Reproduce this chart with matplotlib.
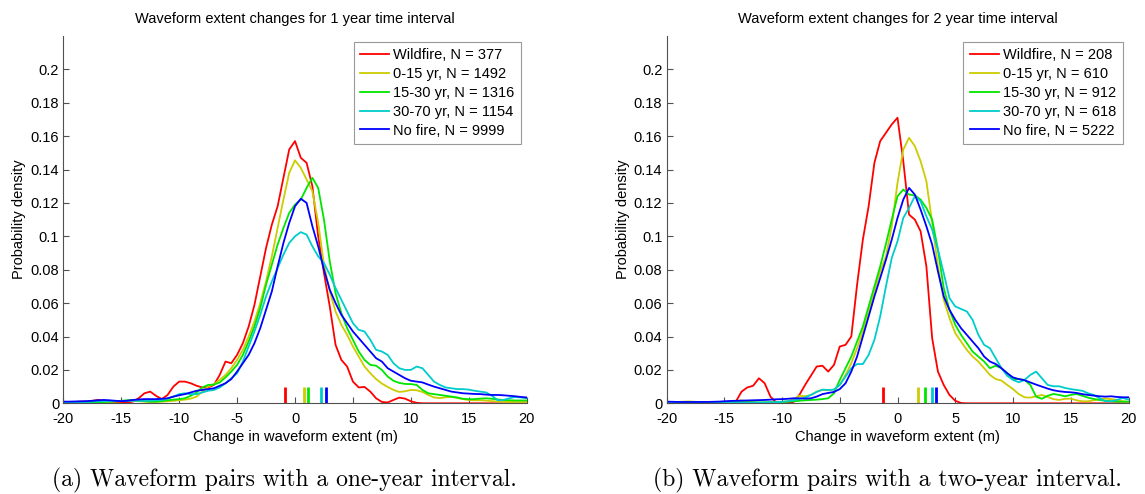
import matplotlib
matplotlib.use("Agg")
import matplotlib.pyplot as plt
import numpy as np

plt.rcParams['font.family'] = ['Liberation Sans', 'DejaVu Sans']
plt.rcParams['axes.unicode_minus'] = False

# x grid shared by all density curves (m)
x = np.arange(-20, 20.5, 0.5)

colors = ['#ff0000', '#cccc00', '#00e600', '#00cccc', '#0000ff']

# ---- 1 year interval ----
labels1 = ['Wildfire, N = 377', '0-15 yr, N = 1492', '15-30 yr, N = 1316',
           '30-70 yr, N = 1154', 'No fire, N = 9999']
wildfire1 = [.0008, .0008, .0008, .001, .001, .0015, .002, .0015, .001, .0006,
             .0005, .0005, .001, .003, .006, .007, .0045, .0025, .005, .010,
             .013, .013, .012, .0105, .0095, .0095, .011, .017, .025, .024,
             .029, .036, .046, .059, .076, .093, .107, .118, .135, .152,
             .157, .147, .144, .130, .100, .078, .058, .035, .026, .022,
             .013, .0095, .0098, .007, .003, .0008, .0005, .002, .0034, .0028,
             .0012, .0003, 0, 0, 0, 0, 0, 0, 0, 0,
             0, 0, 0, 0, 0, 0, 0, 0, 0, 0,
             0]
yr0_15_1 = [.0003, .0003, .0004, .0005, .0005, .0006, .0007, .0008, .0008, .001,
            .0012, .0015, .0015, .0013, .001, .0008, .0008, .001, .0012, .0015,
            .0018, .0022, .0028, .004, .007, .010, .0115, .014, .017, .021,
            .026, .032, .040, .049, .060, .073, .088, .105, .122, .138,
            .1455, .141, .134, .127, .108, .083, .067, .055, .047, .041,
            .034, .028, .022, .018, .0145, .0118, .0098, .008, .0068, .0072,
            .008, .0078, .0068, .005, .0035, .0031, .0036, .0038, .0032, .0025,
            .002, .0018, .0018, .0016, .0013, .001, .0009, .0008, .0008, .0008,
            .0008]
yr15_30_1 = [.0003, .0003, .0003, .0004, .0005, .0005, .0006, .0008, .001, .0012,
             .0015, .0018, .002, .0018, .0013, .001, .001, .0013, .0018, .0022,
             .0025, .003, .0045, .0065, .0095, .011, .0112, .0125, .0155, .019,
             .023, .029, .037, .046, .057, .071, .083, .095, .105, .114,
             .119, .122, .129, .135, .129, .110, .085, .066, .054, .045,
             .038, .031, .026, .023, .0225, .020, .016, .0135, .0122, .0116,
             .0115, .011, .008, .006, .0055, .005, .0045, .004, .0035, .0027,
             .0024, .0025, .0028, .003, .0027, .0023, .002, .0018, .0017, .0017,
             .0017]
yr30_70_1 = [.0005, .0005, .0006, .0007, .0008, .001, .0012, .0013, .0013, .0013,
             .0014, .0015, .0015, .0015, .0015, .0016, .0018, .002, .0028, .004,
             .0055, .006, .0055, .0055, .0065, .0075, .008, .0095, .012, .015,
             .018, .025, .034, .043, .053, .064, .073, .081, .089, .096,
             .100, .1025, .101, .094, .088, .084, .077, .069, .062, .055,
             .048, .044, .043, .038, .032, .031, .029, .024, .021, .020,
             .020, .022, .021, .017, .013, .011, .0095, .009, .0085, .0085,
             .0082, .0075, .007, .0065, .0045, .0018, .002, .003, .0038, .0035,
             .003]
nofire1 = [.001, .001, .0011, .0012, .0013, .0015, .0018, .002, .0018, .0015,
           .0013, .0015, .002, .0023, .0025, .0025, .0025, .0027, .003, .004,
           .0048, .0055, .0065, .0075, .008, .0085, .009, .0105, .012, .0145,
           .019, .024, .029, .036, .045, .056, .067, .082, .096, .108,
           .118, .1225, .120, .106, .094, .080, .068, .060, .053, .048,
           .043, .039, .035, .031, .027, .025, .021, .019, .017, .015,
           .0135, .013, .0125, .0112, .010, .009, .008, .007, .0065, .006,
           .0058, .0056, .0055, .0052, .005, .005, .0048, .0045, .0042, .0038,
           .0035]
means1 = [-0.86, 0.78, 1.15, 2.25, 2.65]

# ---- 2 year interval ----
labels2 = ['Wildfire, N = 208', '0-15 yr, N = 610', '15-30 yr, N = 912',
           '30-70 yr, N = 618', 'No fire, N = 5222']
wildfire2 = [.0005, .0005, .0005, .0005, .0005, .0005, .0005, .0005, .0005, .0005,
             .0005, .0005, .001, .007, .0095, .0105, .015, .012, .004, .0005,
             .0002, .0002, .0008, .005, .011, .0165, .022, .0225, .019, .023,
             .034, .035, .040, .071, .098, .118, .144, .157, .162, .167,
             .171, .145, .113, .110, .103, .082, .039, .019, .011, .005,
             .0015, .0002, 0, 0, 0, 0, 0, 0, 0, 0,
             0, 0, 0, 0, 0, 0, 0, 0, 0, 0,
             0, 0, 0, 0, 0, 0, 0, 0, 0, 0,
             0]
yr0_15_2 = [.0005, .0006, .0008, .0010, .0011, .0009, .0006, .0005, .0005, .0005,
            .0006, .0009, .0014, .0017, .0012, .0006, .0004, .0004, .0005, .0006,
            .0008, .0012, .0025, .0045, .0042, .0050, .0070, .0080, .0078, .0082,
            .011, .017, .024, .033, .043, .055, .067, .079, .088, .106,
            .132, .152, .159, .154, .145, .133, .108, .082, .062, .051,
            .042, .037, .032, .028, .025, .021, .017, .0145, .0136, .011,
            .0085, .0055, .0036, .0034, .0042, .005, .0038, .0025, .002, .0027,
            .0028, .0018, .0012, .0012, .0018, .0025, .0028, .0025, .002, .0012,
            .0008]
yr15_30_2 = [.0005, .0005, .0005, .0005, .0005, .0005, .0005, .0005, .0005, .0005,
             .0005, .0005, .0006, .0007, .0007, .0006, .0005, .0005, .0006, .0007,
             .0008, .001, .0012, .0015, .0018, .002, .0022, .0025, .003, .006,
             .014, .021, .028, .037, .046, .058, .070, .082, .0955, .110,
             .124, .128, .125, .1245, .122, .117, .110, .092, .069, .056,
             .047, .041, .036, .031, .028, .025, .021, .0225, .021, .018,
             .0145, .0145, .014, .011, .004, .0027, .0045, .0056, .005, .0042,
             .005, .0056, .0045, .0034, .0026, .002, .0015, .0012, .001, .001,
             .001]
yr30_70_2 = [.0004, .0004, .0004, .0004, .0004, .0004, .0004, .0004, .0004, .0004,
             .0004, .0004, .0004, .0004, .0004, .0004, .0004, .0005, .0006, .0007,
             .0009, .0012, .0018, .0025, .0035, .005, .0068, .0082, .008, .0082,
             .011, .016, .021, .0235, .0235, .029, .038, .052, .070, .087,
             .097, .111, .117, .124, .121, .112, .104, .092, .078, .063,
             .058, .0565, .055, .050, .041, .035, .033, .027, .021, .0165,
             .014, .0126, .014, .017, .019, .015, .011, .0102, .0102, .0092,
             .0085, .008, .0075, .006, .005, .003, .0012, .0012, .002, .0032,
             .0022]
nofire2 = [.0010, .0009, .0008, .0008, .0008, .0008, .0008, .0008, .0009, .001,
           .0012, .0014, .0015, .0016, .0017, .0018, .0019, .002, .0022, .0024,
           .0025, .0027, .003, .003, .0028, .003, .004, .0055, .0062, .0068,
           .0085, .012, .019, .028, .040, .052, .064, .075, .086, .098,
           .111, .122, .129, .125, .116, .106, .095, .079, .064, .056,
           .050, .045, .041, .037, .033, .028, .025, .0235, .021, .018,
           .0155, .0145, .0138, .0125, .0112, .010, .0088, .0078, .0072, .0068,
           .0066, .0062, .0055, .005, .0046, .0042, .004, .0042, .0038, .0036,
           .0036]
means2 = [-1.24, 1.79, 2.37, 2.98, 3.32]

panels = [
    ('Waveform extent changes for 1 year time interval',
     [wildfire1, yr0_15_1, yr15_30_1, yr30_70_1, nofire1], labels1, means1,
     '(a) Waveform pairs with a one-year interval.'),
    ('Waveform extent changes for 2 year time interval',
     [wildfire2, yr0_15_2, yr15_30_2, yr30_70_2, nofire2], labels2, means2,
     '(b) Waveform pairs with a two-year interval.'),
]

fig = plt.figure(figsize=(11.45, 4.94), dpi=100)
rects = [[0.0553, 0.1836, 0.4047, 0.7437], [0.5821, 0.1836, 0.4035, 0.7437]]
caption_x = [0.248, 0.775]
axis_grey = '#505050'

for rect, (title, curves, labels, means, caption), cx in zip(rects, panels, caption_x):
    ax = fig.add_axes(rect)
    for y, c, lab in zip(curves, colors, labels):
        ax.plot(x, y, color=c, lw=1.3, label=lab)
    # mean markers
    ax.vlines(means, 0, 0.0099, colors=colors, lw=2.0)

    ax.set_xlim(-20, 20)
    ax.set_ylim(0, 0.22)
    ax.set_xticks(np.arange(-20, 21, 5))
    yt = np.arange(0, 0.201, 0.02)
    ax.set_yticks(yt)
    ax.set_yticklabels(['%g' % round(v, 2) for v in yt])
    for s in ['top', 'right']:
        ax.spines[s].set_visible(False)
    for s in ['left', 'bottom']:
        ax.spines[s].set_color(axis_grey)
        ax.spines[s].set_linewidth(0.8)
    ax.tick_params(direction='in', length=4, width=0.8, color=axis_grey,
                   labelsize=10.5)
    ax.tick_params(axis='x', pad=6)
    ax.tick_params(axis='y', pad=3)
    ax.set_title(title, fontsize=10.5, pad=9)
    ax.set_xlabel('Change in waveform extent (m)', fontsize=10.5, labelpad=3)
    ax.set_ylabel('Probability density', fontsize=10.5, labelpad=3)
    leg = ax.legend(loc='upper right', fontsize=10.5, frameon=True, fancybox=False,
                    edgecolor='#808080', borderaxespad=0.4, handlelength=2.0,
                    handletextpad=0.25, labelspacing=0.33, borderpad=0.45)
    leg.get_frame().set_linewidth(0.8)

    fig.text(cx, 0.027, caption, ha='center', va='center', fontsize=17,
             family='cmr10')

fig.savefig('out.png', dpi=100)
